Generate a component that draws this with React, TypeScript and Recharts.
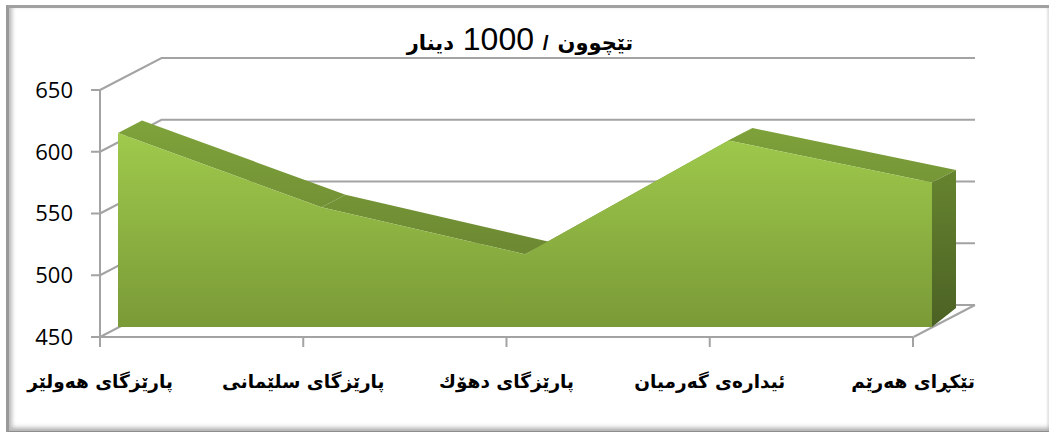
import { AreaChart, Area, XAxis, YAxis, ReferenceLine } from "recharts";

const regions = [
  "پارێزگای هەولێر",
  "پارێزگای سلێمانی",
  "پارێزگای دهۆك",
  "ئیدارەی گەرمیان",
  "تێكڕای هەرێم",
];
const spending = [607, 547, 509, 601, 567];
const yTicks = [450, 500, 550, 600, 650];

const chartData = regions.map((region, i) => ({ region, spending: spending[i] }));

// fake 3d depth, in px
const WALL = { dx: 61.5, dy: -32 };
const SLAB = { dx: 24, dy: -12.5, floorDy: -19 };
const GRID = "#a3a3a3";

function WallLine({ x1, x2, y1, level }: any) {
  const left = Math.min(x1, x2);
  const right = Math.max(x1, x2);
  const d = `M${left},${y1}L${left + WALL.dx},${y1 + WALL.dy}L${right},${y1 + WALL.dy}`;
  return (
    <g>
      <path d={d} fill="none" stroke={GRID} strokeWidth={2} />
      {level === 450 && (
        <path
          d={`M${right - WALL.dx},${y1}L${right},${y1 + WALL.dy}`}
          fill="none"
          stroke={GRID}
          strokeWidth={2}
        />
      )}
    </g>
  );
}

function TopFace({ x1, y1, x2, y2 }: any) {
  const pts = [
    [x1, y1],
    [x2, y2],
    [x2 + SLAB.dx, y2 + SLAB.dy],
    [x1 + SLAB.dx, y1 + SLAB.dy],
  ];
  return <polygon points={pts.map((p) => p.join(",")).join(" ")} fill="url(#topFill)" />;
}

function SideFace({ x1, y1, x2, y2 }: any) {
  const top = Math.min(y1, y2);
  const bottom = Math.max(y1, y2);
  const pts = [
    [x1, top],
    [x1 + SLAB.dx, top + SLAB.dy],
    [x1 + SLAB.dx, bottom + SLAB.floorDy],
    [x1, bottom],
  ];
  return <polygon points={pts.map((p) => p.join(",")).join(" ")} fill="url(#sideFill)" />;
}

export default function App() {
  return (
    <div style={{ position: "absolute", left: 0, top: 0, width: 1049, height: 432, background: "#fff", overflow: "hidden" }}>
      <div
        style={{
          position: "absolute",
          left: 6,
          top: 5,
          width: 1040,
          height: 423,
          borderTop: "3px solid #a0a0a0",
          borderLeft: "3px solid #999",
          borderBottom: "4px solid #8e8e8e",
          boxShadow: "inset 5px 0 4px -2px #bbb, inset 0 -6px 5px -3px #aaa, inset -3px 0 2px -1px #e8e8e8",
        }}
      />
      <AreaChart
        width={1049}
        height={432}
        data={chartData}
        margin={{ top: 57, right: 74, bottom: 0, left: 0 }}
        style={{ position: "absolute", left: 0, top: 0 }}
      >
        <defs>
          <linearGradient id="frontFill" x1="0" y1="0" x2="0" y2="1">
            <stop offset="0%" stopColor="#9fca4c" />
            <stop offset="100%" stopColor="#7a9a37" />
          </linearGradient>
          <linearGradient id="sideFill" x1="0" y1="0" x2="0" y2="1">
            <stop offset="0%" stopColor="#66842f" />
            <stop offset="100%" stopColor="#4b6124" />
          </linearGradient>
          <linearGradient id="topFill" gradientUnits="userSpaceOnUse" x1="0" y1="120" x2="0" y2="255">
            <stop offset="0%" stopColor="#7fa33b" />
            <stop offset="100%" stopColor="#6c8832" />
          </linearGradient>
        </defs>

        <XAxis
          xAxisId="front"
          dataKey="region"
          height={95}
          interval={0}
          padding={{ left: 0, right: 62 }}
          axisLine={false}
          tickLine={{ stroke: GRID, strokeWidth: 2 }}
          tickSize={10}
          tickMargin={28}
          tick={{ fill: "#000", fontSize: 18.5, fontWeight: 700, fontFamily: "'DejaVu Sans'" }}
        />
        <YAxis
          yAxisId="front"
          width={100}
          domain={[450, 650]}
          ticks={yTicks}
          padding={{ top: 33, bottom: 0 }}
          axisLine={false}
          tickLine={{ stroke: GRID, strokeWidth: 2 }}
          tickSize={9}
          tickMargin={18}
          tick={{ fill: "#000", fontSize: 22, fontFamily: "'Open Sans'" }}
        />
        {/* the slab sits a bit behind the front plane of the axes */}
        <XAxis xAxisId="slab" dataKey="region" hide padding={{ left: 18, right: 43 }} />
        <YAxis yAxisId="slab" hide domain={[450, 650]} padding={{ top: 23, bottom: 10 }} />

        {/* invisible, only so the front axes have a series bound to them */}
        <Area
          xAxisId="front"
          yAxisId="front"
          dataKey="spending"
          stroke="none"
          fill="none"
          dot={false}
          activeDot={false}
          isAnimationActive={false}
        />

        {yTicks.map((v) => (
          <ReferenceLine
            key={v}
            xAxisId="front"
            yAxisId="front"
            y={v}
            zIndex={200}
            shape={(p: any) => <WallLine {...p} level={v} />}
          />
        ))}
        <ReferenceLine
          xAxisId="front"
          yAxisId="front"
          zIndex={200}
          segment={[
            { x: regions[0], y: 450 },
            { x: regions[0], y: 650 },
          ]}
          stroke={GRID}
          strokeWidth={2}
        />
        <ReferenceLine
          xAxisId="front"
          yAxisId="front"
          zIndex={200}
          segment={[
            { x: regions[0], y: 450 },
            { x: regions[4], y: 450 },
          ]}
          stroke={GRID}
          strokeWidth={2}
        />

        {spending.slice(1).map((v, i) => (
          <ReferenceLine
            key={regions[i]}
            xAxisId="slab"
            yAxisId="slab"
            zIndex={210}
            segment={[
              { x: regions[i], y: spending[i] },
              { x: regions[i + 1], y: v },
            ]}
            shape={TopFace}
          />
        ))}
        <ReferenceLine
          xAxisId="slab"
          yAxisId="slab"
          zIndex={210}
          segment={[
            { x: regions[4], y: spending[4] },
            { x: regions[4], y: 450 },
          ]}
          shape={SideFace}
        />

        <Area
          xAxisId="slab"
          yAxisId="slab"
          dataKey="spending"
          type="linear"
          stroke="none"
          fill="url(#frontFill)"
          fillOpacity={1}
          zIndex={220}
          dot={false}
          activeDot={false}
          isAnimationActive={false}
        />
      </AreaChart>
      <div
        dir="rtl"
        style={{
          position: "absolute",
          left: 320,
          width: 400,
          top: 21,
          textAlign: "center",
          fontFamily: "'Liberation Sans', 'DejaVu Sans'",
          fontWeight: 700,
          fontSize: 21,
          wordSpacing: 3,
          lineHeight: "36px",
          color: "#000",
        }}
      >
        تێچوون / <span style={{ fontSize: 32, fontWeight: 400 }}>1000</span> دینار
      </div>
    </div>
  );
}
